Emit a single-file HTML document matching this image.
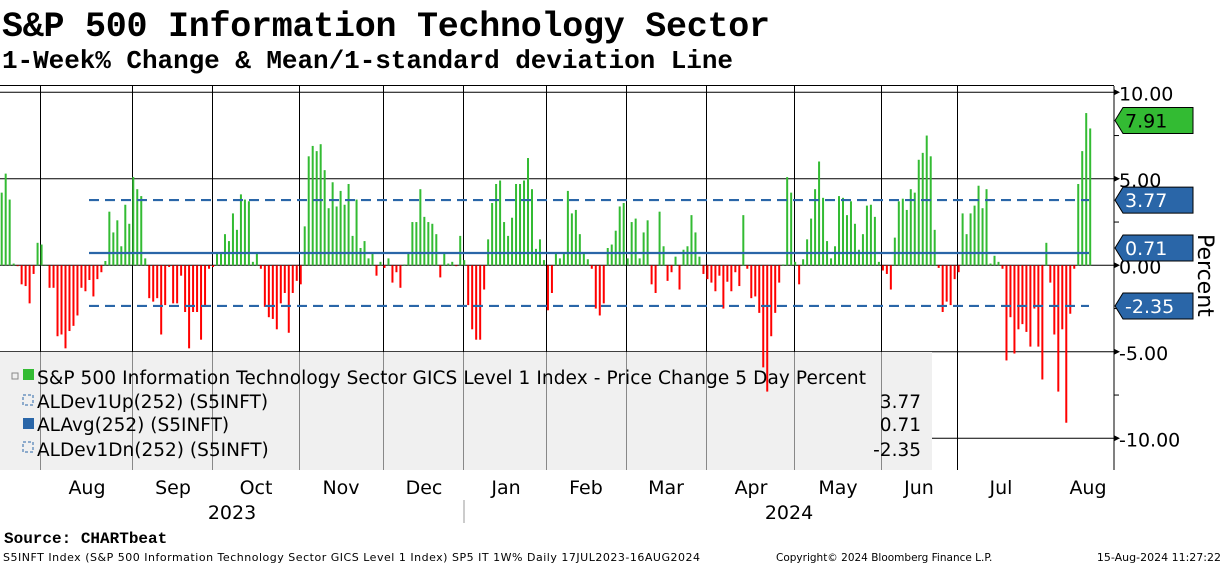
<!DOCTYPE html>
<html><head><meta charset="utf-8"><style>
body{margin:0;background:#fff;width:1224px;height:566px;overflow:hidden;font-family:"DejaVu Sans",sans-serif}
svg{position:absolute;left:0;top:0}
</style></head><body>
<svg id="chart" width="1224" height="566" font-family="DejaVu Sans">
<text x="2" y="36" font-family="Liberation Mono" font-weight="bold" font-size="35" textLength="768">S&amp;P 500 Information Technology Sector</text>
<text x="2" y="68" font-family="Liberation Mono" font-weight="bold" font-size="26" textLength="731">1-Week% Change &amp; Mean/1-standard deviation Line</text>
<line x1="0" y1="85.5" x2="1114" y2="85.5" stroke="#000" stroke-width="1"/>
<g id="grid"></g>
<rect x="0" y="352" width="932" height="118" fill="#f0f0f0"/>
<g id="lgrid"></g>
<g id="bars"></g><g id="lines"></g>
<g id="axis"></g>
<g font-size="18.5">
<rect x="12" y="373" width="6" height="6" fill="none" stroke="#888"/>
<rect x="23" y="369" width="11" height="11" fill="#33bb33"/>
<text x="37" y="384" textLength="829">S&amp;P 500 Information Technology Sector GICS Level 1 Index - Price Change 5 Day Percent</text>
<rect x="23" y="395" width="10" height="10" fill="none" stroke="#2a66a8" stroke-dasharray="3,2"/>
<text x="37" y="408">ALDev1Up(252) (S5INFT)</text>
<text x="921" y="408" text-anchor="end">3.77</text>
<rect x="23" y="418" width="11" height="11" fill="#2a66a8"/>
<text x="37" y="431">ALAvg(252) (S5INFT)</text>
<text x="921" y="431" text-anchor="end">0.71</text>
<rect x="23" y="442" width="10" height="10" fill="none" stroke="#2a66a8" stroke-dasharray="3,2"/>
<text x="37" y="456">ALDev1Dn(252) (S5INFT)</text>
<text x="921" y="456" text-anchor="end">-2.35</text>
</g>
<g id="xlabels" font-size="19"></g>
<text x="232" y="519" font-size="19" text-anchor="middle">2023</text>
<text x="789" y="519" font-size="19" text-anchor="middle">2024</text>
<line x1="464" y1="500" x2="464" y2="523" stroke="#999"/>
<text x="1198" y="234" font-size="22" transform="rotate(90 1198 234)">Percent</text>
<text x="4" y="543" font-family="Liberation Mono" font-weight="bold" font-size="16">Source: CHARTbeat</text>
<text x="3" y="561" font-size="11" textLength="697">S5INFT Index (S&amp;P 500 Information Technology Sector GICS Level 1 Index) SP5 IT 1W%  Daily 17JUL2023-16AUG2024</text>
<text x="776" y="561" font-size="10.5">Copyright© 2024 Bloomberg Finance L.P.</text>
<text x="1221" y="561" font-size="11" text-anchor="end">15-Aug-2024 11:27:22</text>
</svg>
<script>
const values=[4.2,5.3,3.8,0.1,-0.05,-1.1,-1.2,-2.2,-0.5,1.3,1.2,0,-1.3,-1.3,-4.1,-4.0,-4.8,-3.8,-3.5,-2.9,-1.3,-1.5,-0.85,-1.8,-0.8,-0.4,0.25,3.1,1.9,2.6,1.1,3.5,2.4,5.1,4.4,4.0,0.4,-1.9,-2.1,-1.9,-4.0,-2.3,-0.1,-2.2,-2.2,-0.6,-2.7,-4.8,-2.7,-2.7,-4.3,-2.3,-0.2,-0.1,0.7,0.7,1.8,1.4,3.0,2.05,4.1,3.8,3.7,0.2,0.7,-0.2,-2.4,-3.0,-3.1,-3.7,
-2.2,-1.6,-3.9,-1.6,-0.9,-1.1,2.25,6.3,6.9,6.6,7.0,5.5,3.3,4.8,3.4,4.3,3.5,4.7,1.7,3.8,1.0,1.4,0.4,0.7,-0.6,0.2,-0.15,0.4,-1.0,-0.4,-1.3,0.05,0.7,2.5,2.5,4.4,2.8,2.5,2.4,1.8,-0.7,0.7,0.1,0.2,-0.05,1.7,0.3,-2.3,-3.7,-4.3,-4.3,-1.4,1.5,3.6,4.7,4.9,2.5,1.7,2.75,4.7,4.7,4.9,6.2,4.4,0.95,1.5,0.3,-2.6,-1.6,0.7,0.4,
0.7,4.3,3.0,3.2,1.8,0.7,0.35,-0.2,-2.5,-2.9,-2.2,1.0,1.2,2.0,3.4,3.6,0.4,2.5,2.7,0.4,1.9,2.6,-1.1,-1.6,3.1,1.1,-0.9,-0.4,0.5,-1.4,0.9,1.1,2.9,1.9,0.5,-0.5,-0.8,-1.0,-1.5,-0.6,-2.5,-0.95,-1.5,-0.4,-1.2,2.9,-0.2,-1.9,-1.8,-2.75,-5.9,-7.3,-4.1,-2.75,-1.0,0.05,5.1,4.2,0.2,-1.1,0.35,1.5,2.7,4.4,6.0,3.9,1.4,0.4,1.1,4.0,
3.9,2.9,3.7,2.4,0.9,1.8,3.45,3.5,2.8,0.2,-0.3,-0.5,-1.4,1.6,3.7,3.85,3.2,4.4,4.2,6.1,6.5,7.5,6.3,2.05,-0.15,-2.7,-2.1,-2.3,-0.8,-0.4,3.0,1.8,3.0,3.45,4.6,3.3,4.4,0.1,0.55,0.2,-0.2,-5.5,-3.0,-5.1,-3.7,-3.4,-3.85,-4.7,-2.5,-4.7,-6.6,1.3,-1.0,-4.0,-7.3,-3.7,-9.1,-2.8,-0.2,4.7,6.6,8.8,7.91];
const yTicks=[10,5,0,-5,-10];
const yTickLabels=["10.00","5.00","0.00","-5.00","-10.00"];
const months=["Aug","Sep","Oct","Nov","Dec","Jan","Feb","Mar","Apr","May","Jun","Jul","Aug"];
const monthGridIdx=[10,33,53,75,96,116,137,157,177,199,221,240];
const meanVal=0.71, upVal=3.77, dnVal=-2.35, lastVal=7.91;
const NS="http://www.w3.org/2000/svg";
const Y=v=>265.3-v*17.3;
const X=i=>1.7+i*(1088.5/(values.length-1));
function mk(tag,attrs,parent,txt){const e=document.createElementNS(NS,tag);for(const k in attrs)e.setAttribute(k,attrs[k]);if(txt!==undefined)e.textContent=txt;document.getElementById(parent).appendChild(e);return e;}
yTicks.forEach((t,k)=>{
 const g=mk('line',{x1:(t<-5?932:0),x2:1114,y1:Y(t),y2:Y(t),stroke:'#000','stroke-width':1},(t<-5?'lgrid':'grid'));
 
 
 const p=mk('polygon',{points:`1114,${Y(t)-3} 1120,${Y(t)} 1114,${Y(t)+3}`,fill:'#000'},'axis');
 
 
 const l=mk('text',{x:1119,y:Y(t)+8,'font-size':19},'axis',yTickLabels[k]);
 
 
});
[7.5,2.5,-2.5,-7.5].forEach(t=>{const m=mk('line',{x1:1114,x2:1119,y1:Y(t),y2:Y(t),stroke:'#000'},'axis');
 
 });
monthGridIdx.forEach((idx)=>{
 const x=Math.round(X(idx)-1.5)+0.5;
 const a=mk('line',{x1:x,x2:x,y1:86,y2:352,stroke:'#000'},'grid');
 
 
 const b=mk('line',{x1:x,x2:x,y1:352,y2:470,stroke:(x<932?'#888':'#000')},'lgrid');
 
 
});
const cx=[87,173,256,341,424,506,586,666,751,838,919,1001,1088];
months.forEach((m,k)=>{const t=mk('text',{x:cx[k],y:494,'text-anchor':'middle'},'xlabels',m);
 
 });
const ax=mk('line',{x1:1114,x2:1114,y1:86,y2:470,stroke:'#000'},'axis');


values.forEach((v,i)=>{
 const y0=Y(0),y1=Y(v);
 const r=mk('rect',{x:X(i)-1,width:2,y:Math.min(y0,y1),height:Math.max(0.5,Math.abs(y1-y0)),fill:v>=0?'#33bb33':'#ff0000'},'bars');
 
 
});
const x0=89,x1=1089;
[[upVal,'dev-up-line',true],[meanVal,'mean-line',false],[dnVal,'dev-down-line',true]].forEach(([v,n,d])=>{
 const a={x1:x0,x2:x1,y1:Y(v),y2:Y(v),stroke:'#2a66a8','stroke-width':2.2};
 if(d)a['stroke-dasharray']='10,6';
 const l=mk('line',a,'lines');
 
 
});
[[lastVal,'#33bb33','#000','last-value-tag'],[upVal,'#2a66a8','#fff','dev-up-tag'],[meanVal,'#2a66a8','#fff','mean-tag'],[dnVal,'#2a66a8','#fff','dev-down-tag']].forEach(([v,f,tc,n])=>{
 const y=Y(v)+ (n==='last-value-tag'?-8:(n==='mean-tag'?-5:0));
 const g=mk('g',{},'axis');
 
 
 const p=document.createElementNS(NS,'polygon');
 p.setAttribute('points',`1115,${y} 1123,${y-13} 1193,${y-13} 1193,${y+13} 1123,${y+13}`);
 p.setAttribute('fill',f);p.setAttribute('stroke','#000');p.setAttribute('stroke-width','1');
 g.appendChild(p);
 const t=document.createElementNS(NS,'text');
 t.setAttribute('x',1125);t.setAttribute('y',y+7);t.setAttribute('font-size',19);t.setAttribute('fill',tc);
 t.textContent=v.toFixed(2);g.appendChild(t);
});
</script>
</body></html>
